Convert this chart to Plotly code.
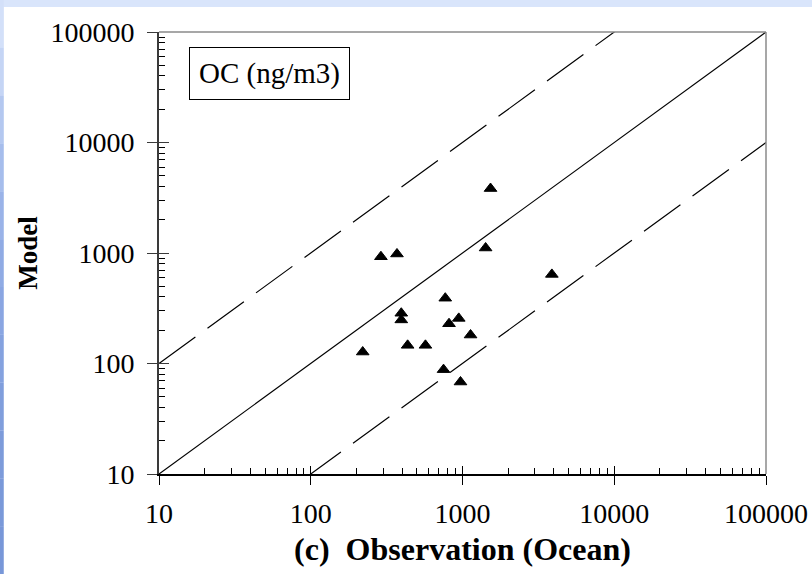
import plotly.graph_objects as go

# Ocean OC concentrations: observed vs modelled (ng/m3)
obs = [220, 290, 370, 395, 395, 435, 570, 750, 770, 815, 945, 970, 1130, 1420, 1530, 3880]
model = [127, 925, 980, 285, 248, 146, 146, 88, 390, 229, 256, 68, 181, 1110, 3830, 640]

# reference ratio lines (1:1, 10:1, 1:10)
ref_range = [10, 100000]
ratios = [1, 10, 0.1]

tick_vals = [10, 100, 1000, 10000, 100000]
tick_text = ["10", "100", "1000", "10000", "100000"]
minor_vals = [d * m for d in tick_vals[:-1] for m in range(2, 10)]

FONT = "Liberation Serif, Times New Roman, serif"

fig = go.Figure()

for r in ratios:
    fig.add_trace(go.Scatter(
        x=ref_range, y=[v * r for v in ref_range], mode="lines",
        line=dict(color="black", width=1.2,
                  dash="solid" if r == 1 else "45px,15px"),
        hoverinfo="skip", showlegend=False,
    ))

fig.add_trace(go.Scatter(
    x=obs, y=model, mode="markers",
    marker=dict(symbol="triangle-up", size=11, color="black",
                line=dict(color="black", width=1)),
    showlegend=False,
))

# invisible trace to hold the inner tick overlay axes
fig.add_trace(go.Scatter(x=[100], y=[100], xaxis="x2", yaxis="y2",
                         mode="markers", marker=dict(opacity=0),
                         hoverinfo="skip", showlegend=False))

axis_common = dict(type="log", range=[1, 5], showgrid=False, zeroline=False,
                   automargin=False,
                   tickmode="array", tickvals=tick_vals, ticktext=tick_text,
                   tickfont=dict(family=FONT, size=28, color="black"))

fig.update_layout(
    width=812, height=574,
    margin=dict(l=159, r=46, t=32, b=100),
    paper_bgcolor="#d9e5fb",
    plot_bgcolor="white",
    font=dict(family=FONT, color="black"),
    xaxis=dict(**axis_common, showline=True, linecolor="black", linewidth=1.5,
               ticks="outside", ticklen=9, tickwidth=1.2, tickcolor="black",
               ticklabelstandoff=5,
               minor=dict(tickmode="array", tickvals=minor_vals, ticks="inside",
                          ticklen=6, tickwidth=1, tickcolor="black", showgrid=False),
               title=dict(text="<b>(c)  Observation (Ocean)</b>",
                          font=dict(family=FONT, size=32, color="black"), standoff=9)),
    yaxis=dict(**axis_common, showline=True, linecolor="#3a3a3a", linewidth=2,
               ticks="outside", ticklen=10, tickwidth=1.2, tickcolor="#3a3a3a",
               ticklabelstandoff=7,
               minor=dict(tickmode="array", tickvals=minor_vals, ticks="inside",
                          ticklen=6, tickwidth=1, tickcolor="black", showgrid=False),
               title=dict(text="<b>Model</b>",
                          font=dict(family=FONT, size=27, color="black"), standoff=5)),
    xaxis2=dict(type="log", range=[1, 5], overlaying="x", anchor="y", side="bottom",
                automargin=False,
                showgrid=False, zeroline=False, showline=False, showticklabels=False,
                tickmode="array", tickvals=tick_vals, ticks="inside", ticklen=8,
                tickwidth=1.2, tickcolor="black"),
    yaxis2=dict(type="log", range=[1, 5], overlaying="y", anchor="x", side="left",
                automargin=False,
                showgrid=False, zeroline=False, showline=False, showticklabels=False,
                tickmode="array", tickvals=tick_vals, ticks="inside", ticklen=10,
                tickwidth=1.2, tickcolor="#3a3a3a"),
)

# page frame: white sheet, top band, shaded left strip, grey top/right plot border
shapes = [
    dict(type="rect", xref="paper", yref="paper", x0=-0.256, x1=1.2,
         y0=-0.3, y1=1.0566, fillcolor="white", line=dict(width=0), layer="below"),
]
strip_cols = ["#d3e0f9", "#c5d5f5", "#b4c8f0", "#a6bdec", "#9ab3e8", "#90abe4",
              "#8aa6e2", "#85a2df", "#809edc", "#7d9bda", "#7a99d9", "#7897d8"]
n = len(strip_cols)
y_top, y_bot = 1.0724, -0.2262
for i, c in enumerate(strip_cols):
    shapes.append(dict(type="rect", xref="paper", yref="paper",
                       x0=-0.2624, x1=-0.2558,
                       y0=y_top - (i + 1) * (y_top - y_bot) / n,
                       y1=y_top - i * (y_top - y_bot) / n,
                       fillcolor=c, line=dict(width=0), layer="below"))
shapes += [
    dict(type="line", xref="paper", yref="paper", x0=0, x1=1, y0=1, y1=1,
         line=dict(color="#8a8a8a", width=1.5)),
    dict(type="line", xref="paper", yref="paper", x0=1, x1=1, y0=0, y1=1,
         line=dict(color="#8a8a8a", width=1.5)),
]
fig.update_layout(shapes=shapes)

fig.add_annotation(
    text="OC (ng/m3)", xref="paper", yref="paper", x=0.0494, y=0.9654,
    xanchor="left", yanchor="top", showarrow=False,
    font=dict(family=FONT, size=29, color="black"),
    width=149, height=41, borderpad=5, borderwidth=1, bordercolor="black",
    bgcolor="white",
)

fig.write_html("out.html")
